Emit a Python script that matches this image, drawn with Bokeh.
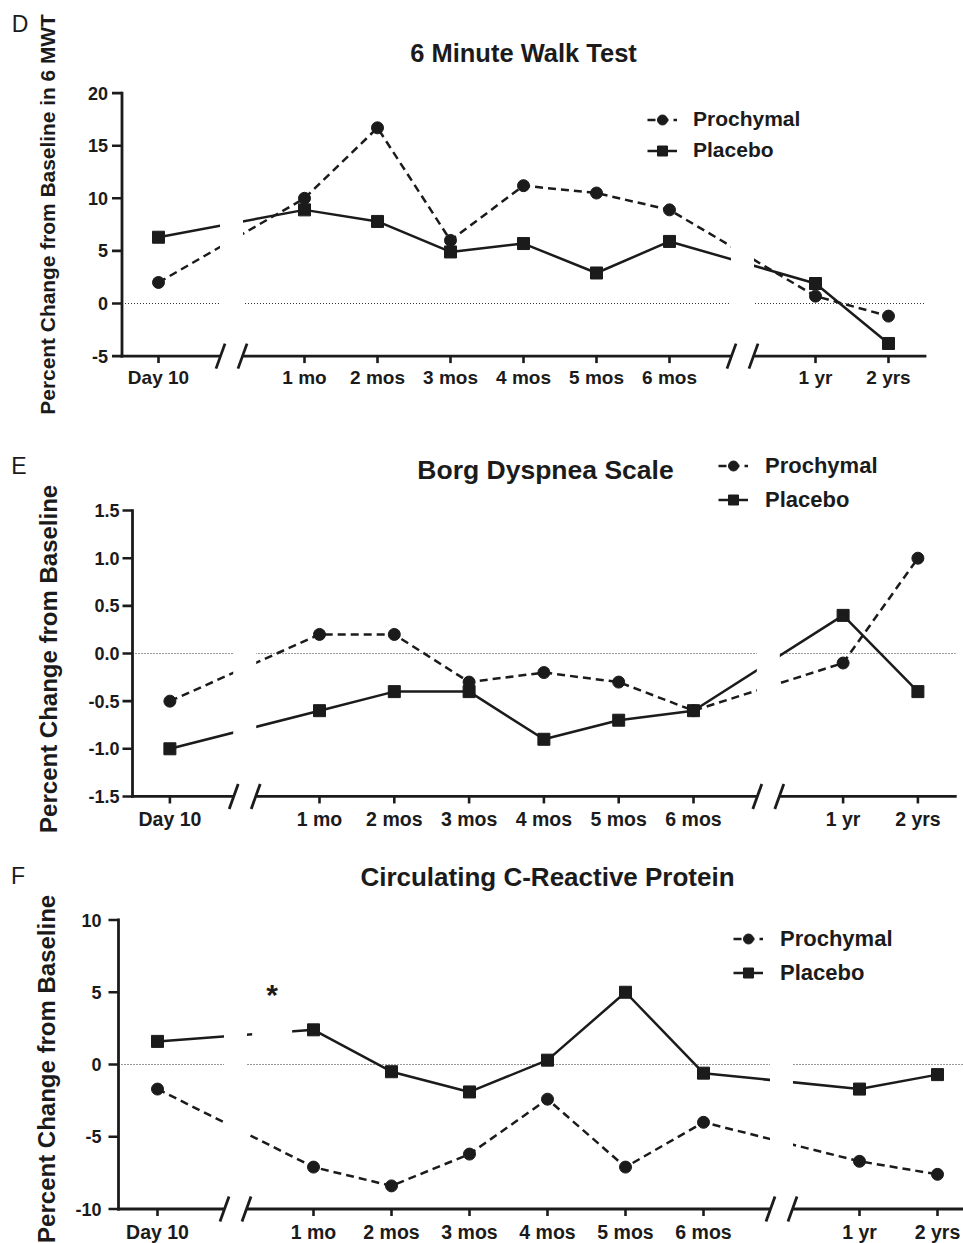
import math
from bokeh.plotting import figure
from bokeh.models import Label, Legend, LegendItem, Range1d
from bokeh.core.properties import value
from bokeh.layouts import column
from bokeh.embed import file_html
from bokeh.resources import INLINE

FONT = "Liberation Sans"
INK = "#1b1b1b"

# ---------------- data ----------------
x_positions = [-1, 1, 2, 3, 4, 5, 6, 8, 9]
x_labels = ["Day 10", "1 mo", "2 mos", "3 mos", "4 mos", "5 mos", "6 mos", "1 yr", "2 yrs"]
break_positions = [0, 7]
axis_x_extent = [-1.5, 9.5]
series_names = ["Prochymal", "Placebo"]

d_letter = "D"
d_title = "6 Minute Walk Test"
d_ylabel = "Percent Change from  Baseline in 6 MWT"
d_prochymal = [2.0, 10.0, 16.7, 6.0, 11.2, 10.5, 8.9, 0.7, -1.2]
d_placebo = [6.3, 8.9, 7.8, 4.9, 5.7, 2.9, 5.9, 1.9, -3.8]
d_yticks = [-5, 0, 5, 10, 15, 20]
d_ytick_labels = ["-5", "0", "5", "10", "15", "20"]

e_letter = "E"
e_title = "Borg Dyspnea Scale"
e_ylabel = "Percent Change from  Baseline"
e_prochymal = [-0.5, 0.2, 0.2, -0.3, -0.2, -0.3, -0.6, -0.1, 1.0]
e_placebo = [-1.0, -0.6, -0.4, -0.4, -0.9, -0.7, -0.6, 0.4, -0.4]
e_yticks = [-1.5, -1.0, -0.5, 0.0, 0.5, 1.0, 1.5]
e_ytick_labels = ["-1.5", "-1.0", "-0.5", "0.0", "0.5", "1.0", "1.5"]

f_letter = "F"
f_title = "Circulating C-Reactive Protein"
f_ylabel = "Percent Change from  Baseline"
f_prochymal = [-1.7, -7.1, -8.4, -6.2, -2.4, -7.1, -4.0, -6.7, -7.6]
f_placebo = [1.6, 2.4, -0.5, -1.9, 0.3, 5.0, -0.6, -1.7, -0.7]
f_yticks = [-10, -5, 0, 5, 10]
f_ytick_labels = ["-10", "-5", "0", "5", "10"]
f_star_text = "*"
f_star_at = (0.47, 5.0)

# ---------------- layout (page pixels) ----------------
PAGE_W = 963

layouts = {
    "D": dict(ref_top=0, height=416, x1px=304, sx=73.0, y0px=303, sy=10.52,
              title_px=(523, 52), title_size=25.5, ylabel_px=(47, 211), ylabel_size=20.9,
              letter_px=(19.5, 23.5), legend_px=(647, 162.5), legend_spacing=6, legend_standoff=16,
              legend_size=21, xlab_size=19, xlab_drop=21, ylab_gap=4),
    "E": dict(ref_top=416, height=430, x1px=319, sx=74.8, y0px=653, sy=95.3,
              title_px=(545, 469), title_size=26.5, ylabel_px=(48, 655), ylabel_size=24,
              letter_px=(18.5, 465), legend_px=(718, 512.5), legend_spacing=8, legend_standoff=17,
              legend_size=22, xlab_size=19.5, xlab_drop=23, ylab_gap=3),
    "F": dict(ref_top=846, height=397, x1px=313, sx=78.0, y0px=1064, sy=14.45,
              title_px=(547, 876), title_size=26, ylabel_px=(46, 1065), ylabel_size=24,
              letter_px=(17.5, 875), legend_px=(733, 985.5), legend_spacing=8, legend_standoff=17,
              legend_size=22, xlab_size=19.5, xlab_drop=23, ylab_gap=7),
}


def build(key, letter, title, ylabel, pro, pla, yticks, ytick_labels, star=None):
    L = layouts[key]
    sx, sy = L["sx"], L["sy"]
    top, H = L["ref_top"], L["height"]

    def xd(X):
        return 1 + (X - L["x1px"]) / sx

    def yd(Y):
        return (L["y0px"] - Y) / sy

    ux, uy = 1 / sx, 1 / sy  # data units per pixel

    p = figure(width=PAGE_W, height=H, output_backend="svg", toolbar_location=None,
               x_range=Range1d(xd(0), xd(PAGE_W)), y_range=Range1d(yd(top + H), yd(top)),
               x_axis_type=None, y_axis_type=None,
               min_border_left=0, min_border_right=0, min_border_top=0, min_border_bottom=0,
               background_fill_color="white", border_fill_color="white")
    p.outline_line_color = None
    p.grid.visible = False

    ymin, ymax = yticks[0], yticks[-1]
    xa0, xa1 = axis_x_extent

    # dotted zero line
    p.line([xa0, xa1], [0, 0], line_color="#333333", line_width=1, line_dash="1 2")

    # axes lines
    p.segment(x0=[xa0, xa0], y0=[ymin, ymin], x1=[xa1, xa0], y1=[ymin, ymax],
              line_color=INK, line_width=2.8, line_cap="square")
    # y ticks
    p.segment(x0=[xa0 - 10 * ux] * len(yticks), y0=yticks, x1=[xa0] * len(yticks), y1=yticks,
              line_color=INK, line_width=2.6)
    # x ticks
    p.segment(x0=x_positions, y0=[ymin] * len(x_positions), x1=x_positions,
              y1=[ymin - 7 * uy] * len(x_positions), line_color=INK, line_width=2.6)

    # tick labels
    p.text(x=[xa0 - (10 + L["ylab_gap"]) * ux] * len(yticks), y=yticks, text=ytick_labels,
           text_align="right", text_baseline="middle", text_font=value(FONT),
           text_font_style="bold", text_font_size="18px", text_color=INK)
    p.text(x=x_positions, y=[ymin - L["xlab_drop"] * uy] * len(x_positions), text=x_labels,
           text_align="center", text_baseline="middle", text_font=value(FONT),
           text_font_style="bold", text_font_size=f'{L["xlab_size"]}px', text_color=INK)

    # series
    r_pro_l = p.line(x_positions, pro, line_color=INK, line_width=2.5, line_dash="8 5")
    r_pla_l = p.line(x_positions, pla, line_color=INK, line_width=2.5)
    r_pro_m = p.scatter(x_positions, pro, marker="circle", size=12, fill_color=INK, line_color=INK)
    r_pla_m = p.scatter(x_positions, pla, marker="square", size=12, fill_color=INK, line_color=INK)

    # axis breaks: white gaps, then slashes
    gh = 11.5 * ux
    p.quad(left=[b - gh for b in break_positions], right=[b + gh for b in break_positions],
           bottom=ymin - 3 * uy, top=ymax, fill_color="white", line_color=None)
    gs, dx, dy = 11 * ux, 4.5 * ux, 12.5 * uy
    s_x0, s_y0, s_x1, s_y1 = [], [], [], []
    for b in break_positions:
        for s in (-1, 1):
            c = b + s * gs
            s_x0.append(c - dx); s_y0.append(ymin - dy)
            s_x1.append(c + dx); s_y1.append(ymin + dy)
    p.segment(x0=s_x0, y0=s_y0, x1=s_x1, y1=s_y1, line_color=INK, line_width=2.8)

    if star is not None:
        txt, (stx, sty) = star
        p.quad(left=[stx - 20 * ux], right=[stx + 20 * ux], bottom=[sty - 50 * uy], top=[sty + 12 * uy],
               fill_color="white", line_color=None)
        p.add_layout(Label(x=stx, y=sty, text=txt, text_align="center", text_baseline="middle",
                           y_offset=-2, text_font=FONT, text_font_style="bold",
                           text_font_size="30px", text_color=INK))

    # legend
    lx, lyb = L["legend_px"]
    legend = Legend(items=[LegendItem(label=series_names[0], renderers=[r_pro_l, r_pro_m]),
                           LegendItem(label=series_names[1], renderers=[r_pla_l, r_pla_m])],
                    location=(lx, (top + H) - lyb), padding=0, margin=0,
                    spacing=L["legend_spacing"], label_standoff=L["legend_standoff"],
                    glyph_width=30, glyph_height=25, label_height=25,
                    background_fill_alpha=0, border_line_color=None,
                    label_text_font=FONT, label_text_font_style="bold",
                    label_text_font_size=f'{L["legend_size"]}px', label_text_color=INK)
    p.add_layout(legend)

    # title, y-axis label, panel letter
    tx, ty = L["title_px"]
    p.add_layout(Label(x=xd(tx), y=yd(ty), text=title, text_align="center", text_baseline="middle",
                       text_font=FONT, text_font_style="bold", text_font_size=f'{L["title_size"]}px',
                       text_color=INK))
    yx, yy = L["ylabel_px"]
    p.add_layout(Label(x=xd(yx), y=yd(yy), text=ylabel, angle=math.pi / 2, text_align="center",
                       text_baseline="middle", text_font=FONT, text_font_style="bold",
                       text_font_size=f'{L["ylabel_size"]}px', text_color=INK))
    ex, ey = L["letter_px"]
    p.add_layout(Label(x=xd(ex), y=yd(ey), text=letter, text_align="center", text_baseline="middle",
                       text_font=FONT, text_font_style="normal", text_font_size="23px",
                       text_color=INK))
    return p


pd_ = build("D", d_letter, d_title, d_ylabel, d_prochymal, d_placebo, d_yticks, d_ytick_labels)
pe_ = build("E", e_letter, e_title, e_ylabel, e_prochymal, e_placebo, e_yticks, e_ytick_labels)
pf_ = build("F", f_letter, f_title, f_ylabel, f_prochymal, f_placebo, f_yticks, f_ytick_labels,
            star=(f_star_text, f_star_at))

layout = column(pd_, pe_, pf_, spacing=0)
open("out.html", "w").write(file_html(layout, INLINE))
